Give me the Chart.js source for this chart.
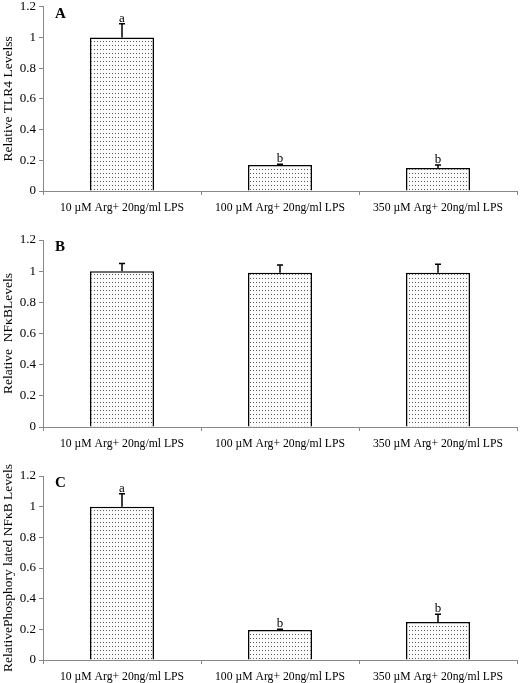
<!DOCTYPE html>
<html>
<head>
<meta charset="utf-8">
<script src="https://cdn.jsdelivr.net/npm/chart.js@4"></script>
<style>
  body { margin: 0; background: #fff; overflow: hidden; }
  .panel { position: absolute; left: 0; width: 520px; }
</style>
</head>
<body>
<div class="panel" style="top:-4px;height:229px"><canvas id="chartA"></canvas></div>
<div class="panel" style="top:225px;height:228px"><canvas id="chartB"></canvas></div>
<div class="panel" style="top:453px;height:230px"><canvas id="chartC"></canvas></div>
<script>
// categorias comunes
const categories = ['10 µM Arg+ 20ng/ml LPS', '100 µM Arg+ 20ng/ml LPS', '350 µM Arg+ 20ng/ml LPS'];
const yTicks = [0, 0.2, 0.4, 0.6, 0.8, 1, 1.2];

// A: TLR4
const tlr4Values = [1.0, 0.17, 0.15];
const tlr4Errors = [0.09, 0.005, 0.02];
const tlr4Letters = ['a', 'b', 'b'];

// B: NFkB
const nfkbValues = [1.0, 0.99, 0.99];
const nfkbErrors = [0.05, 0.05, 0.055];
const nfkbLetters = ['', '', ''];

// C: NFkB fosforilado
const pnfkbValues = [1.0, 0.195, 0.248];
const pnfkbErrors = [0.085, 0.005, 0.05];
const pnfkbLetters = ['a', 'b', 'b'];

const serif = 'Liberation Serif, Times New Roman, serif';

// patrón punteado de las barras
function dotPattern() {
    const c = document.createElement('canvas');
    c.width = 3; c.height = 4;
    const g = c.getContext('2d');
    g.fillStyle = '#fbfbfb';
    g.fillRect(0, 0, 3, 4);
    g.fillStyle = '#5a5a5a';
    g.fillRect(1, 1, 1, 1);
    return document.createElement('canvas').getContext('2d').createPattern(c, 'repeat');
}

// barras de error + letras + letra del panel
const extras = {
    id: 'extras',
    afterDatasetsDraw(chart, args, opts) {
        const ctx = chart.ctx;
        const ys = chart.scales.y;
        const meta = chart.getDatasetMeta(0);
        const vals = chart.data.datasets[0].data;
        ctx.save();
        ctx.strokeStyle = '#000';
        ctx.lineWidth = 1.5;
        ctx.fillStyle = '#000';
        ctx.font = '13px ' + serif;
        ctx.textAlign = 'center';
        ctx.textBaseline = 'bottom';
        meta.data.forEach((bar, i) => {
            const x = bar.x;
            const y0 = ys.getPixelForValue(vals[i]);
            const y1 = ys.getPixelForValue(vals[i] + opts.errors[i]);
            ctx.beginPath();
            ctx.moveTo(x, y0);
            ctx.lineTo(x, y1);
            ctx.moveTo(x - 3, y1);
            ctx.lineTo(x + 3, y1);
            ctx.stroke();
            if (opts.letters[i]) ctx.fillText(opts.letters[i], x, y1 + 1);
        });
        ctx.font = 'bold 15px ' + serif;
        ctx.textAlign = 'left';
        ctx.textBaseline = 'middle';
        ctx.fillText(opts.panel, chart.chartArea.left + 12, chart.chartArea.top + 7);
        ctx.restore();
    }
};

function makeChart(id, values, errors, letters, panel, yTitle, padTop, xHeight) {
    return new Chart(document.getElementById(id), {
        type: 'bar',
        data: {
            labels: categories,
            datasets: [{
                data: values,
                backgroundColor: dotPattern(),
                borderColor: '#000',
                borderWidth: 1.5,
                borderSkipped: 'bottom',
                categoryPercentage: 1,
                barPercentage: 0.405
            }]
        },
        options: {
            responsive: true,
            maintainAspectRatio: false,
            animation: false,
            layout: { padding: { top: padTop, right: 3, left: 0, bottom: 0 } },
            plugins: {
                legend: { display: false },
                tooltip: { enabled: false },
                extras: { errors: errors, letters: letters, panel: panel }
            },
            scales: {
                x: {
                    grid: { drawOnChartArea: false, drawTicks: true, tickLength: 4, color: '#888', offset: true },
                    border: { color: '#888', width: 1 },
                    ticks: { color: '#000', font: { family: serif, size: 11.7 }, maxRotation: 0, padding: 6 },
                    afterFit: s => { s.height = xHeight; }
                },
                y: {
                    min: 0, max: 1.2,
                    afterBuildTicks: s => { s.ticks = yTicks.map(v => ({ value: v })); },
                    grid: { drawOnChartArea: false, drawTicks: true, tickLength: 4, color: '#888' },
                    border: { color: '#888', width: 1 },
                    ticks: { color: '#000', font: { family: serif, size: 13 }, padding: 3,
                             callback: v => String(+v.toFixed(1)) },
                    title: { display: true, text: yTitle, color: '#000', font: { family: serif, size: 13.5 }, padding: { top: 0, bottom: 2 } },
                    afterFit: s => { s.width = 43; }
                }
            }
        },
        plugins: [extras]
    });
}

makeChart('chartA', tlr4Values, tlr4Errors, tlr4Letters, 'A', 'Relative TLR4 Levelss', 10, 34);
makeChart('chartB', nfkbValues, nfkbErrors, nfkbLetters, 'B', 'Relative  NFκBLevels', 15, 26);
makeChart('chartC', pnfkbValues, pnfkbErrors, pnfkbLetters, 'C', 'RelativePhosphory lated NFκB Levels', 23, 23);
</script>
</body>
</html>
